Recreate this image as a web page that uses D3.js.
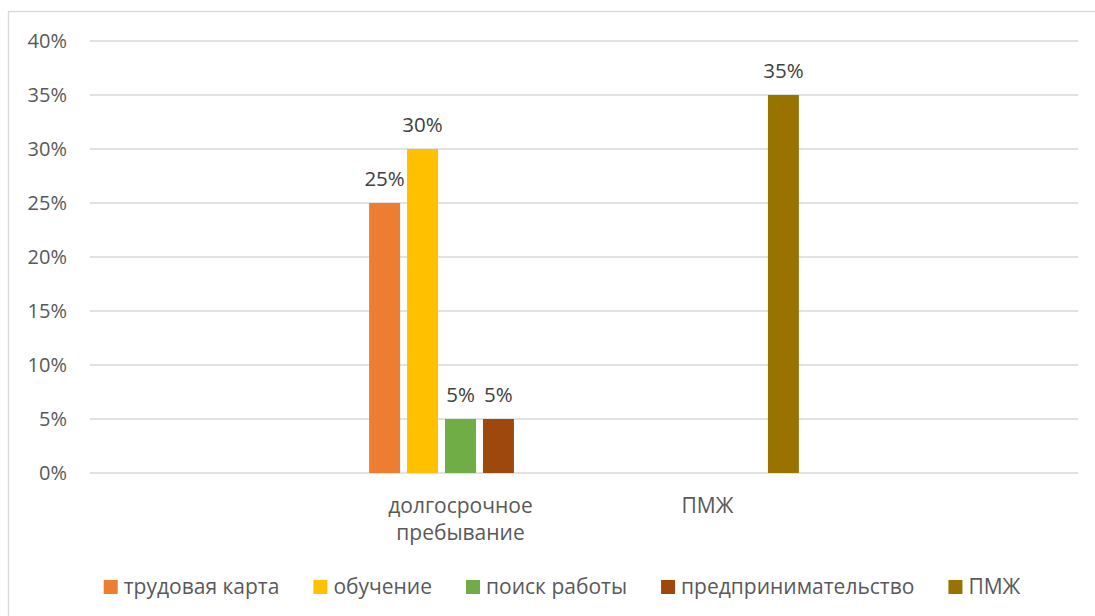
<!DOCTYPE html>
<html>
<head>
<meta charset="utf-8">
<script src="https://cdn.jsdelivr.net/npm/d3@7"></script>
<style>
  body { margin: 0; background: #fff; }
  text { font-family: "Open Sans", sans-serif; }
</style>
</head>
<body>
<div id="chart"></div>
<script>
// categories along the x axis (first and last are empty in the source chart)
var categories = ["", "долгосрочное пребывание", "ПМЖ", ""];
var series = ["трудовая карта", "обучение", "поиск работы", "предпринимательство", "ПМЖ"];
var colors = ["#ED7D31", "#FFC000", "#70AD47", "#9E480E", "#997300"];

var trudovayaKarta = [null, 0.25, null, null];
var obuchenie = [null, 0.30, null, null];
var poiskRaboty = [null, 0.05, null, null];
var predprinimatelstvo = [null, 0.05, null, null];
var pmzh = [null, null, 0.35, null];
var seriesValues = [trudovayaKarta, obuchenie, poiskRaboty, predprinimatelstvo, pmzh];

var yTicks = [0, 0.05, 0.10, 0.15, 0.20, 0.25, 0.30, 0.35, 0.40];

var W = 1095, H = 616;
var margin = {top: 41, right: 17, bottom: 143, left: 90},
    width = W - margin.left - margin.right,
    height = H - margin.top - margin.bottom;

var svg = d3.select("#chart").append("svg")
    .attr("width", W)
    .attr("height", H);

// chart border
svg.append("rect")
    .attr("x", 8.5).attr("y", 11.5)
    .attr("width", W + 10).attr("height", H)
    .attr("fill", "none")
    .attr("stroke", "#d9d9d9")
    .attr("stroke-width", 1.3);

var g = svg.append("g")
    .attr("transform", "translate(" + margin.left + "," + margin.top + ")");

var y = d3.scaleLinear().domain([0, 0.4]).range([height, 0]);
var x0 = d3.scaleBand().domain(d3.range(categories.length)).range([0, width]);
var groupGap = x0.bandwidth() * 0.13;
var x1 = d3.scaleBand().domain(series)
    .range([groupGap, x0.bandwidth() - groupGap])
    .paddingInner(0.184);

// gridlines
g.selectAll(".grid").data(yTicks).enter().append("line")
    .attr("x1", 0).attr("x2", width)
    .attr("y1", function(d){ return y(d); })
    .attr("y2", function(d){ return y(d); })
    .attr("stroke", "#d9d9d9")
    .attr("stroke-width", 1.5);

// y axis labels
var yAxis = d3.axisLeft(y).tickValues(yTicks).tickSize(0).tickPadding(23)
    .tickFormat(d3.format(".0%"));
g.append("g").call(yAxis)
    .call(function(s){ s.select(".domain").remove(); })
    .selectAll("text")
    .attr("fill", "#595959")
    .style("font-size", "20px")
    .style("font-family", "'Open Sans', sans-serif");

// bars
var flat = [];
seriesValues.forEach(function(vals, si){
    vals.forEach(function(v, ci){
        if (v != null) flat.push({s: series[si], c: ci, v: v, color: colors[si]});
    });
});

g.selectAll(".bar").data(flat).enter().append("rect")
    .attr("x", function(d){ return x0(d.c) + x1(d.s); })
    .attr("y", function(d){ return y(d.v); })
    .attr("width", x1.bandwidth())
    .attr("height", function(d){ return height - y(d.v); })
    .attr("fill", function(d){ return d.color; });

// data labels
g.selectAll(".lbl").data(flat).enter().append("text")
    .attr("x", function(d){ return x0(d.c) + x1(d.s) + x1.bandwidth() / 2; })
    .attr("y", function(d){ return y(d.v) - 17; })
    .attr("text-anchor", "middle")
    .attr("fill", "#404040")
    .style("font-size", "20.5px")
    .text(function(d){ return d3.format(".0%")(d.v); });

// category labels, one word per line
categories.forEach(function(c, i){
    var t = g.append("text")
        .attr("text-anchor", "middle")
        .attr("fill", "#595959")
        .style("font-size", "21px")
        .attr("transform", "translate(" + (x0(i) + x0.bandwidth() / 2) + "," + (height + 40) + ")");
    c.split(" ").forEach(function(w, k){
        t.append("tspan").attr("x", 0).attr("dy", k === 0 ? 0 : 27).text(w);
    });
});

// legend
var legend = svg.append("g");
var items = legend.selectAll(".item").data(series).enter().append("g");
items.append("rect")
    .attr("width", 14).attr("height", 14)
    .attr("y", -14)
    .attr("fill", function(d, i){ return colors[i]; });
items.append("text")
    .attr("x", 20)
    .attr("y", 0)
    .attr("fill", "#595959")
    .style("font-size", "21px")
    .text(function(d){ return d; });

var pos = 0;
items.each(function(){
    var tw = d3.select(this).select("text").node().getComputedTextLength();
    d3.select(this).attr("transform", "translate(" + pos + ",0)");
    pos += 20 + tw + 34;
});
var legendWidth = pos - 34;
legend.attr("transform", "translate(" + (562 - legendWidth / 2) + ",594)");
</script>
</body>
</html>
